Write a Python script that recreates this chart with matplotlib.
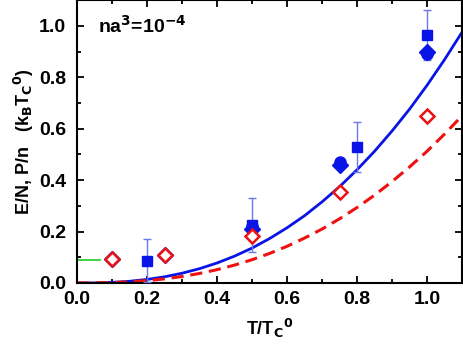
import numpy as np
import matplotlib.pyplot as plt
from matplotlib.ticker import MultipleLocator

plt.rcParams['font.family'] = ['Liberation Sans', 'DejaVu Sans']
plt.rcParams['font.weight'] = 'bold'
plt.rcParams['mathtext.default'] = 'bf'

# theory curves (E/N solid, P/n dashed)
t_curve = [0.0, 0.05, 0.1, 0.15, 0.2, 0.25, 0.3, 0.35, 0.4, 0.45, 0.5, 0.55,
           0.6, 0.65, 0.7, 0.75, 0.8, 0.85, 0.9, 0.95, 1.0, 1.05, 1.1]
e_curve = [0.0, 0.0004, 0.0024, 0.0067, 0.0138, 0.0241, 0.038, 0.0558, 0.0779,
           0.1046, 0.136, 0.173, 0.215, 0.262, 0.316, 0.375, 0.441, 0.513,
           0.592, 0.677, 0.770, 0.870, 0.977]
p_curve = [0.0, 0.0003, 0.0016, 0.0045, 0.0092, 0.016, 0.0253, 0.0372, 0.0519,
           0.0697, 0.0907, 0.115, 0.143, 0.175, 0.210, 0.250, 0.294, 0.342,
           0.395, 0.452, 0.513, 0.580, 0.651]

# blue squares with error bars
t_sq = [0.2, 0.5, 0.8, 1.0]
e_sq = [0.087, 0.225, 0.528, 0.966]
err_sq = [0.085, 0.105, 0.097, 0.098]

# blue filled diamonds
t_dm = [0.1, 0.25, 0.5, 0.75, 1.0]
e_dm = [0.093, 0.11, 0.21, 0.46, 0.90]

# blue circles
t_ci = [0.5, 0.75, 1.0]
e_ci = [0.22, 0.47, 0.89]
err_ci = [0.01, 0.01, 0.015]

# red open diamonds
t_rd = [0.1, 0.25, 0.5, 0.75, 1.0]
p_rd = [0.092, 0.107, 0.183, 0.354, 0.649]
err_rd = [0.0, 0.0, 0.025, 0.01, 0.0]

# green mark at T=0
t_green = [0.0, 0.066]
v_green = [0.091, 0.091]

fig = plt.figure(figsize=(4.63, 3.57), dpi=100)
ax = fig.add_axes([0.1663, 0.2073, 0.832, 0.792])

ax.plot(t_green, v_green, color='#22cc22', lw=1.2)
ax.plot(t_curve, e_curve, color='#0a14e6', lw=2)
ax.plot(t_curve, p_curve, color='#ee1111', lw=2.2, ls=(0, (4, 2.2)))

ax.errorbar(t_sq, e_sq, yerr=err_sq, fmt='s', color='#0a14e6', ms=7,
            ecolor='#6a78f0', elinewidth=1, capsize=3, capthick=1, zorder=3)
ax.plot(t_dm, e_dm, 'D', color='#0a14e6', ms=8, zorder=3)
ax.errorbar(t_ci, e_ci, yerr=err_ci, fmt='o', color='#0a14e6', ms=8,
            ecolor='#6a78f0', elinewidth=1, capsize=2, zorder=3)
ax.errorbar(t_rd, p_rd, yerr=err_rd, fmt='D', mfc='white', mec='#ee1111',
            mew=1.8, ms=7, ecolor='#ee1111', elinewidth=1, zorder=4)

ax.set_xlim(0, 1.1)
ax.set_ylim(0, 1.1)
ax.xaxis.set_major_locator(MultipleLocator(0.2))
ax.xaxis.set_minor_locator(MultipleLocator(0.1))
ax.yaxis.set_major_locator(MultipleLocator(0.2))
ax.yaxis.set_minor_locator(MultipleLocator(0.1))
ax.tick_params(which='both', direction='in', top=True, right=True,
               labelsize=14, width=1.3)
ax.tick_params(which='major', length=5)
ax.tick_params(which='minor', length=3)
ax.tick_params(axis='x', pad=6)
ax.tick_params(axis='y', pad=8)
for lab in ax.get_xticklabels() + ax.get_yticklabels():
    lab.set_fontweight('bold')
for s in ax.spines.values():
    s.set_linewidth(1.5)

ax.set_xlabel(r'T/T$_C$$^0$', fontsize=13, fontweight='bold', labelpad=6)
ax.set_ylabel(r'E/N, P/n   (k$_B$T$_C$$^0$)', fontsize=13, fontweight='bold',
              labelpad=2)
ax.text(0.055, 0.91, r'na$^3$=10$^{-4}$', transform=ax.transAxes,
        fontsize=14, fontweight='bold', va='center')

fig.savefig('out.png', dpi=100)
